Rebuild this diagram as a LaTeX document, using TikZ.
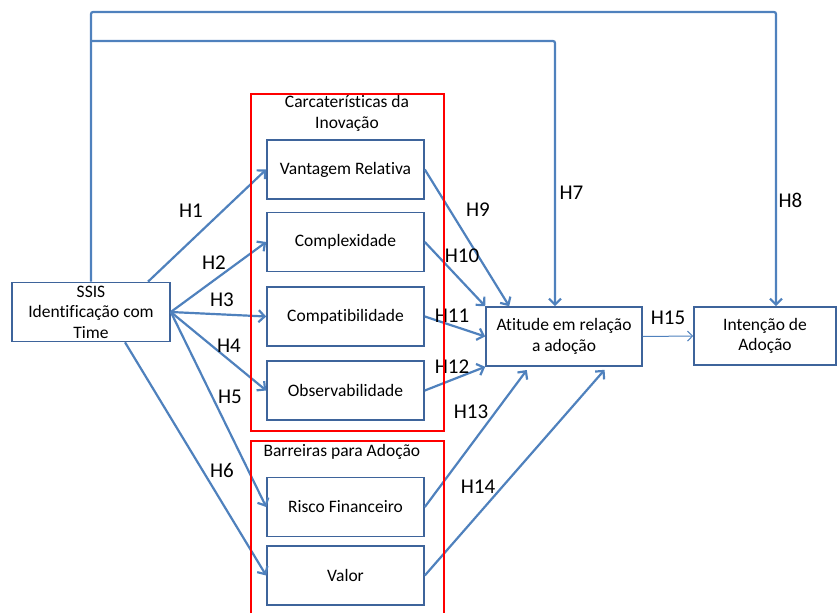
\documentclass[tikz,border=0pt]{standalone}
\usepackage{fontspec}
\setmainfont{Carlito}[Ligatures=NoCommon]
\usetikzlibrary{positioning, arrows.meta, calc}
\definecolor{linkblue}{RGB}{79,129,189}
\definecolor{boxblue}{RGB}{62,100,155}

\begin{document}
\begin{tikzpicture}[x=1pt, y=-1pt,
    box/.style={draw=boxblue, line width=1.6pt, fill=white, minimum width=157pt,
                minimum height=59pt, align=center, inner sep=2pt,
                font=\fontsize{17.5}{20.5}\selectfont},
    group/.style={draw=red, line width=1.4pt},
    caption/.style={align=center, font=\fontsize{17.5}{21}\selectfont},
    hlabel/.style={font=\fontsize{21}{23}\selectfont},
    arrow/.style={-{Straight Barb[length=6pt, width=12pt]}, line width=2.2pt, linkblue},
    thinarrow/.style={-{Straight Barb[length=5pt, width=10pt]}, line width=1pt, linkblue},
]
\useasboundingbox (0,0) rectangle (840,613);

% --- Source ---
\node[box, minimum width=158pt] (ssis) at (91, 312)
    {SSIS\\Identificação com\\Time};

% --- Inovação ---
\node[box] (vantagem) at (345.5, 169.5) {Vantagem Relativa};
\node[box] (complex)  at (345.5, 242)   {Complexidade};
\node[box] (compat)   at (345.5, 316.5) {Compatibilidade};
\node[box] (observ)   at (345.5, 390.5) {Observabilidade};

% --- Barreiras ---
\node[box] (risco) at (345.5, 507)   {Risco Financeiro};
\node[box] (valor) at (345.5, 575.5) {Valor};

% --- Atitude / Intencao ---
\node[box, minimum width=156pt] (atitude) at (564, 336.5)
    {Atitude em relação\\a adoção};
\node[box, minimum width=142pt, minimum height=58pt] (intencao) at (765, 336)
    {Intenção de\\Adoção};

% --- Top connections ---
\coordinate (top1) at (91, 12);
\coordinate (top2) at (91, 41);
\draw[arrow, rounded corners=2pt] (ssis.north) -- (top1)
    -| ([xshift=11pt]intencao.north);
\draw[arrow, rounded corners=2pt] (top2) -| ([xshift=-9pt]atitude.north);

% --- Source to constructs ---
\draw[arrow] ([xshift=57pt]ssis.north) -- (vantagem.west);
\draw[arrow] (ssis.east) -- (complex.west);
\draw[arrow] (ssis.east) -- (compat.west);
\draw[arrow] (ssis.east) -- (observ.west);
\draw[arrow] (ssis.east) -- (risco.west);
\draw[arrow] ([xshift=34pt]ssis.south) -- (valor.west);

% --- Constructs to atitude ---
\draw[arrow] (vantagem.east) -- ([xshift=24pt]atitude.north west);
\draw[arrow] (complex.east) -- (atitude.north west);
\draw[arrow] (compat.east) -- (atitude.west);
\draw[arrow] (observ.east) -- (atitude.south west);
\draw[arrow, shorten >=4pt] (risco.east) -- ([xshift=44pt]atitude.south west);
\draw[arrow, shorten >=4pt] (valor.east) -- ([xshift=122pt]atitude.south west);
\draw[thinarrow] (atitude.east) -- (intencao.west);

% --- Hypothesis labels ---
\node[hlabel] (h1)  at (191, 211) {H1};
\node[hlabel] (h2)  at (214, 263) {H2};
\node[hlabel] (h3)  at (222, 300) {H3};
\node[hlabel] (h4)  at (229, 346) {H4};
\node[hlabel] (h5)  at (230, 397) {H5};
\node[hlabel] (h6)  at (222, 470) {H6};
\node[hlabel, anchor=west] (h7) at (556, 193) {H7};
\node[hlabel, anchor=west] (h8) at (775, 200) {H8};
\node[hlabel] (h9)  at (478, 210) {H9};
\node[hlabel] (h10) at (462, 256) {H10};
\node[hlabel] (h11) at (452, 316) {H11};
\node[hlabel] (h12) at (452, 367) {H12};
\node[hlabel] (h13) at (471, 412) {H13};
\node[hlabel] (h14) at (478, 487) {H14};
\node[hlabel] (h15) at (668, 318) {H15};

% --- Groups ---
\draw[group] (251, 94) rectangle (444, 431);
\node[caption] (inovacao) at (347, 113) {Carcaterísticas da\\Inovação};
\draw[group] (251, 613) -- (251, 441) -- (444, 441) -- (444, 613);
\node[caption, anchor=west] (barreiras) at (260, 452) {Barreiras para Adoção};
\end{tikzpicture}
\end{document}
